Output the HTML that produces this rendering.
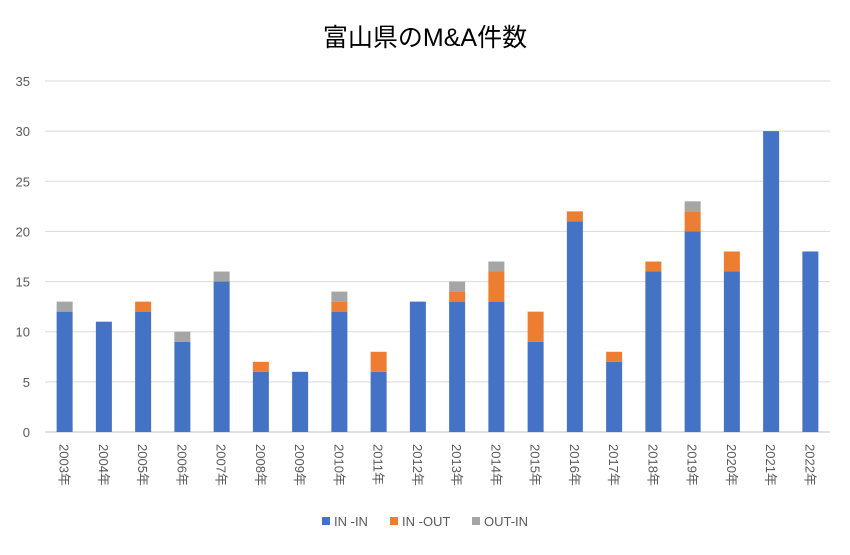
<!DOCTYPE html>
<html><head><meta charset="utf-8"><style>
body{margin:0;background:#fff;}
svg text{font-family:"Liberation Sans","Noto Sans CJK JP",sans-serif;}
</style></head><body>
<svg id="chart" width="850" height="550" xmlns="http://www.w3.org/2000/svg">
<text x="425" y="46" text-anchor="middle" font-size="25" fill="#000">富山県のM&amp;A件数</text>
<g id="grid"></g><g id="bars"></g><g id="xlabels"></g>
<g>
<rect x="322" y="517" width="8" height="8" fill="#4472C4"/>
<text x="334" y="526" font-size="13" fill="#595959">IN -IN</text>
<rect x="390" y="517" width="8" height="8" fill="#ED7D31"/>
<text x="402" y="526" font-size="13" fill="#595959">IN -OUT</text>
<rect x="472" y="517" width="8" height="8" fill="#A5A5A5"/>
<text x="484" y="526" font-size="13" fill="#595959">OUT-IN</text>
</g>
</svg>
<script>
const categories=["2003年","2004年","2005年","2006年","2007年","2008年","2009年","2010年","2011年","2012年","2013年","2014年","2015年","2016年","2017年","2018年","2019年","2020年","2021年","2022年"];
const inIn=[12,11,12,9,15,6,6,12,6,13,13,13,9,21,7,16,20,16,30,18];
const inOut=[0,0,1,0,0,1,0,1,2,0,1,3,3,1,1,1,2,2,0,0];
const outIn=[1,0,0,1,1,0,0,1,0,0,1,1,0,0,0,0,1,0,0,0];
const yTicks=[0,5,10,15,20,25,30,35];
const NS="http://www.w3.org/2000/svg";
const L=45,R=830,Y0=432,Y1=81,YMAX=35;
const y=v=>Y0-(Y0-Y1)*v/YMAX;
const step=(R-L)/categories.length;
const xc=i=>L+step*(i+0.5);
const bw=16;
function mk(t,a,p){const e=document.createElementNS(NS,t);for(const k in a)e.setAttribute(k,a[k]);p.appendChild(e);return e;}
const grid=document.getElementById('grid');
yTicks.forEach(v=>{
 const l=mk('line',{x1:L,x2:R,y1:y(v),y2:y(v),stroke:v===0?'#bfbfbf':'#d9d9d9','stroke-width':1},grid);
 
 
 const t=mk('text',{x:30,y:y(v)+5,'text-anchor':'end','font-size':13,fill:'#595959'},grid);
 t.textContent=v;
 
 
});
const bars=document.getElementById('bars');
const series=[[inIn,'#4472C4','in-in'],[inOut,'#ED7D31','in-out'],[outIn,'#A5A5A5','out-in']];
categories.forEach((c,i)=>{
 let base=0;
 series.forEach(([arr,col,nm])=>{
  const v=arr[i];
  if(v>0){
   const r=mk('rect',{x:xc(i)-bw/2,y:y(base+v),width:bw,height:y(base)-y(base+v),fill:col},bars);
   
   
  }
  base+=v;
 });
 const t=mk('text',{x:0,y:0,'font-size':13,fill:'#595959',transform:`translate(${xc(i)-5},444) rotate(90)`},document.getElementById('xlabels'));
 t.textContent=c;
 
 
});
</script>
</body></html>
